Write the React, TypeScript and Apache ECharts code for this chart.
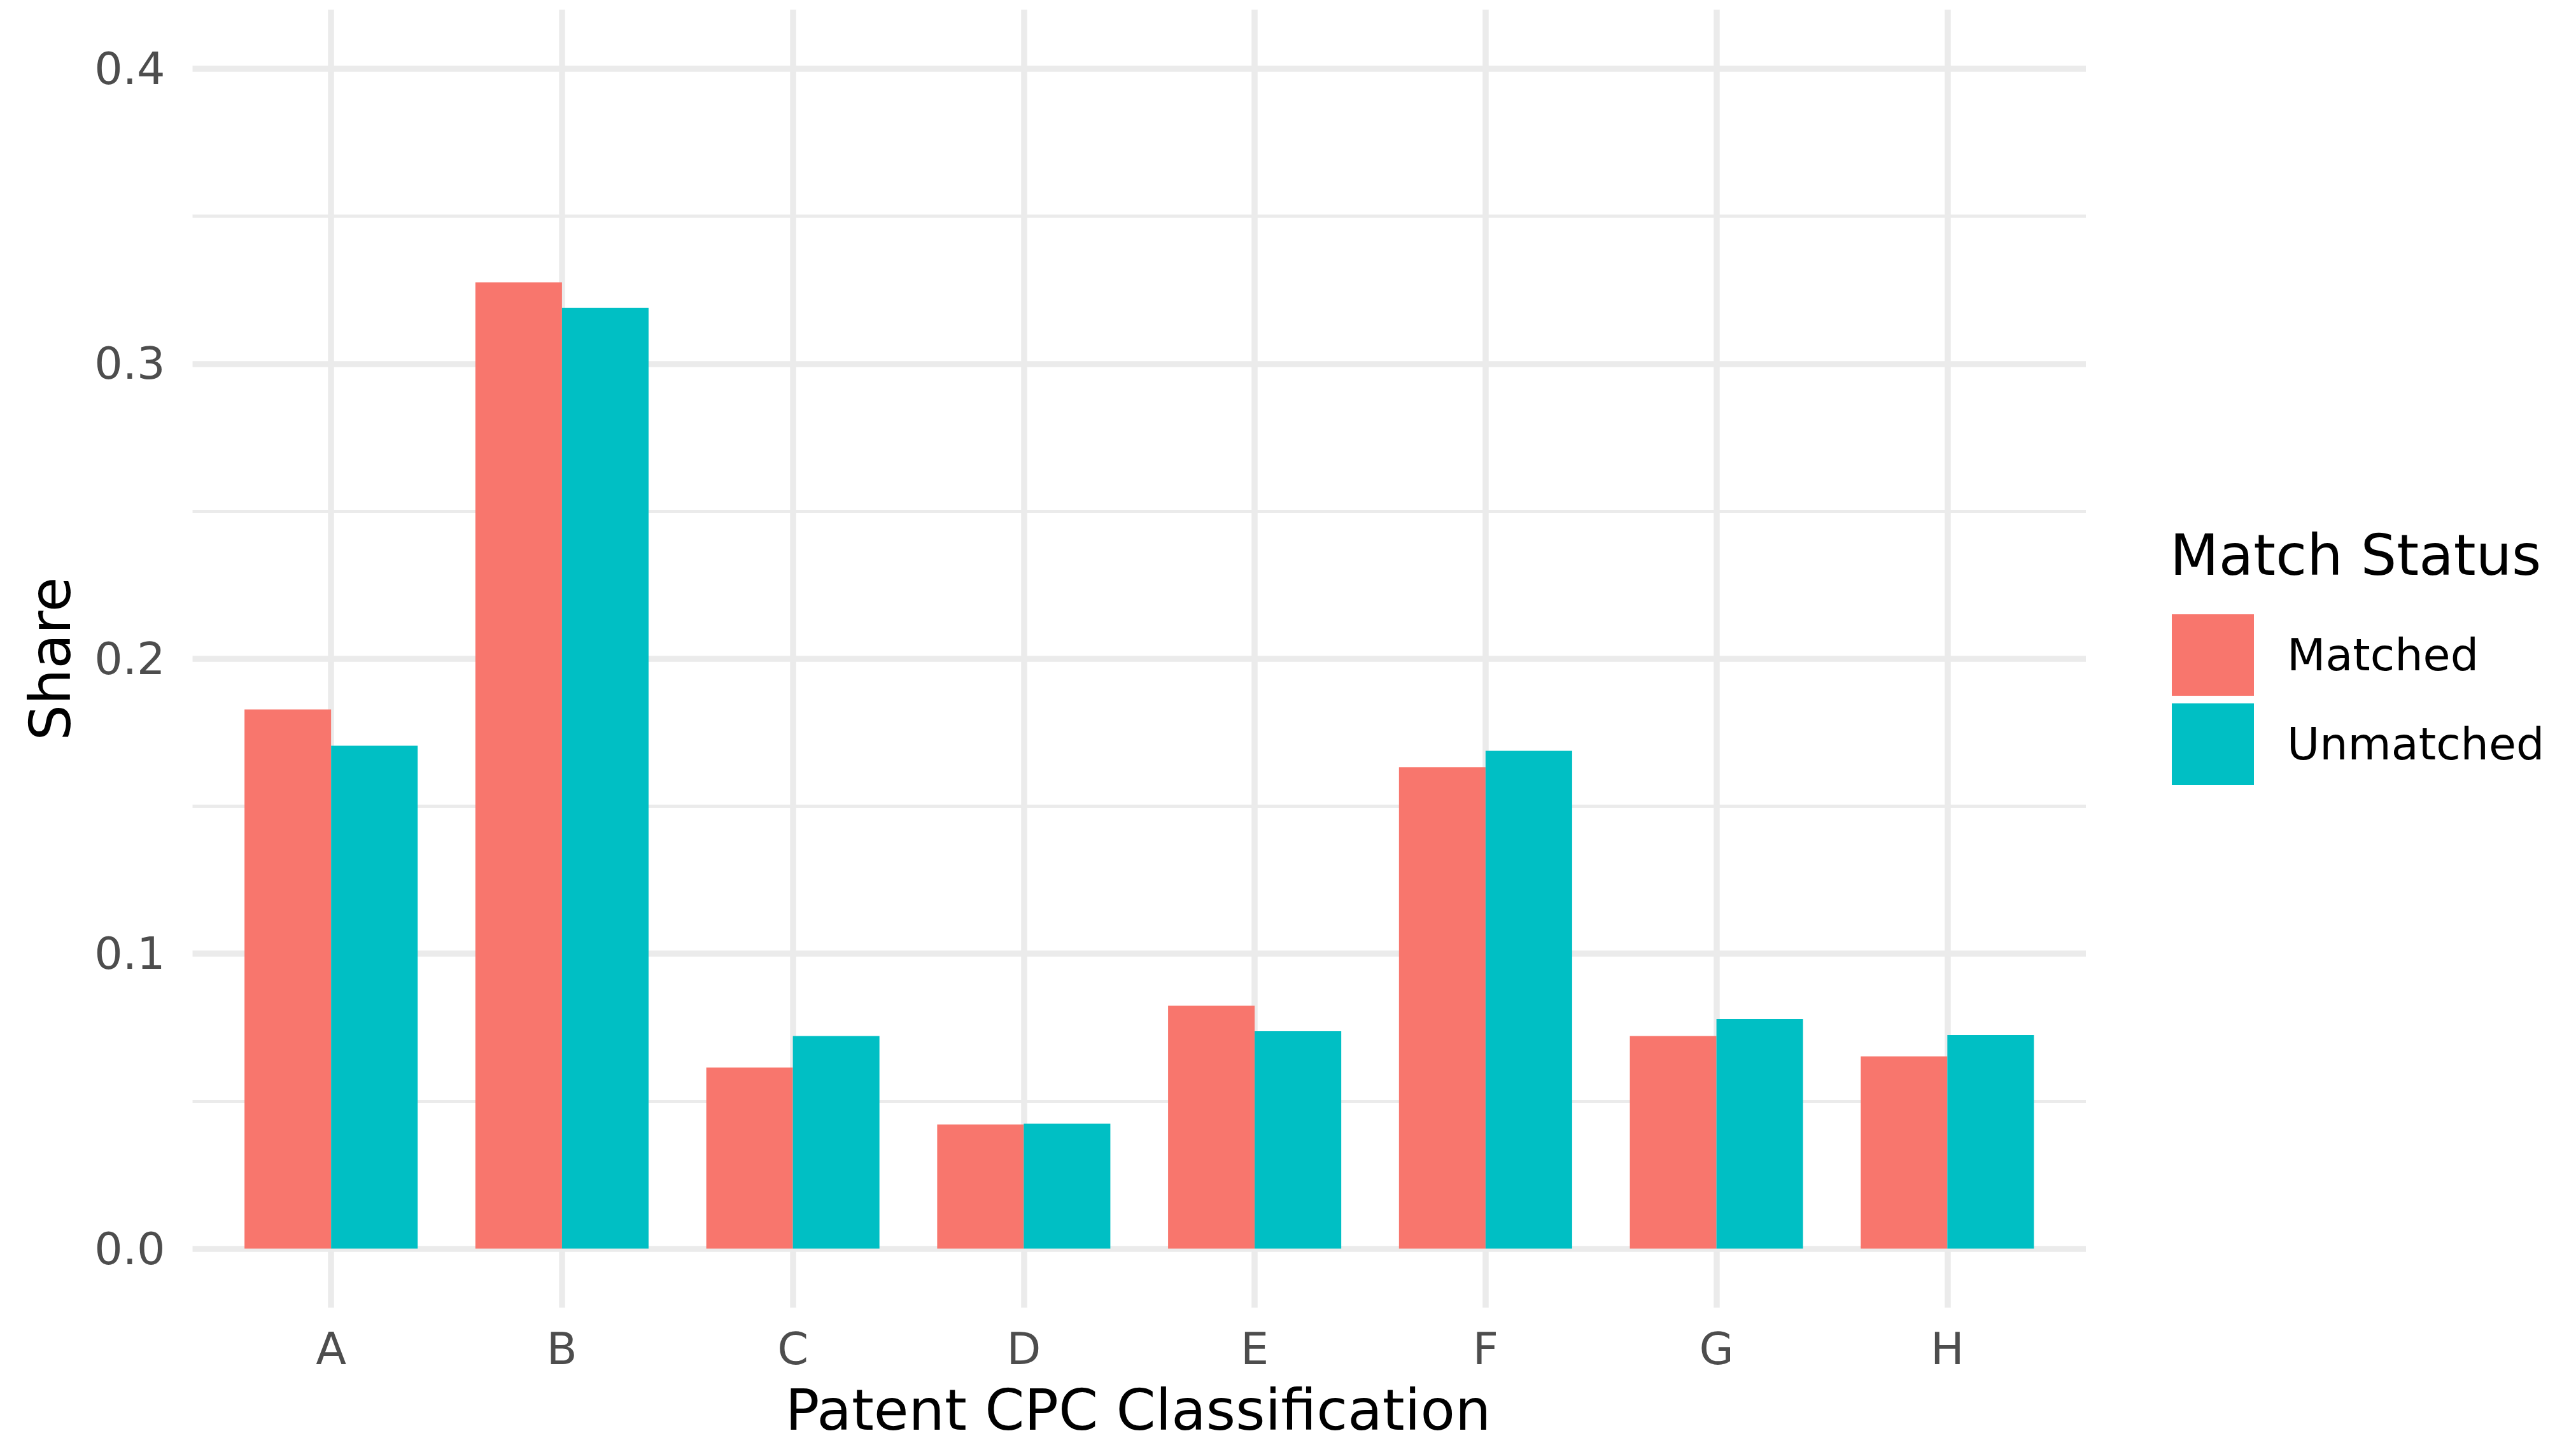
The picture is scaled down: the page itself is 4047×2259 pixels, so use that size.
import React, { useEffect, useRef } from "react";
import * as echarts from "echarts";

const categories = ["A", "B", "C", "D", "E", "F", "G", "H"];
const matched = [0.1828, 0.3276, 0.0614, 0.0421, 0.0824, 0.1632, 0.0721, 0.0652];
const unmatched = [0.1705, 0.3189, 0.0721, 0.0424, 0.0737, 0.1688, 0.0778, 0.0724];
const seriesNames = ["Matched", "Unmatched"];
const seriesColors = ["#F8766D", "#00BFC4"];
const yMajorTicks = [0, 0.1, 0.2, 0.3, 0.4];
const yMinorTicks = [0.05, 0.15, 0.25, 0.35];
const xPositions = [0, 1, 2, 3, 4, 5, 6, 7];

const FONT = '"DejaVu Sans", "Liberation Sans", sans-serif';
const GRID_COLOR = "#EBEBEB";

export default function App() {
  const ref = useRef<HTMLDivElement>(null);

  useEffect(() => {
    if (!ref.current) return;
    const chart = echarts.init(ref.current, null, { renderer: "svg" });
    const option: any = {
      animation: false,
      backgroundColor: "#FFFFFF",
      textStyle: { fontFamily: FONT },
      grid: { left: 302.5, right: 770, top: 15.3, bottom: 204.7, containLabel: false },
      xAxis: {
        type: "value",
        min: -0.6,
        max: 7.6,
        axisLine: { show: false },
        axisTick: { show: false, customValues: xPositions },
        axisLabel: {
          customValues: xPositions,
          formatter: (v: number) => categories[Math.round(v)] ?? "",
          fontSize: 70,
          fontFamily: FONT,
          color: "#4D4D4D",
          margin: 65,
          verticalAlign: "middle",
        },
        splitLine: { show: true, lineStyle: { color: GRID_COLOR, width: 9.5 } },
      },
      yAxis: [
        {
          type: "value",
          min: -0.02,
          max: 0.42,
          axisLine: { show: false },
          axisTick: { show: false, customValues: yMajorTicks },
          axisLabel: {
            customValues: yMajorTicks,
            formatter: (v: number) => v.toFixed(1),
            fontSize: 70,
            fontFamily: FONT,
            color: "#4D4D4D",
            margin: 43,
          },
          splitLine: { show: true, lineStyle: { color: GRID_COLOR, width: 9.5 } },
        },
        {
          type: "value",
          min: -0.02,
          max: 0.42,
          position: "left",
          axisLine: { show: false },
          axisTick: { show: false, customValues: yMinorTicks },
          axisLabel: { show: false, customValues: yMinorTicks },
          splitLine: { show: true, lineStyle: { color: GRID_COLOR, width: 5 } },
        },
      ],
      legend: {
        data: seriesNames,
        orient: "vertical",
        left: 3412,
        top: 965,
        padding: 0,
        itemWidth: 129,
        itemHeight: 128,
        itemGap: 12,
        icon: "rect",
        textStyle: {
          fontSize: 70,
          fontFamily: FONT,
          color: "#000000",
          padding: [0, 0, 0, 47],
        },
      },
      graphic: [
        {
          type: "text",
          x: 79,
          y: 1035,
          rotation: Math.PI / 2,
          style: {
            text: "Share",
            fontSize: 89,
            lineHeight: 80,
            fontFamily: FONT,
            fill: "#000000",
            align: "center",
            verticalAlign: "middle",
            textAlign: "center",
            textVerticalAlign: "middle",
          },
        },
        {
          type: "text",
          x: 1788,
          y: 2215,
          style: {
            text: "Patent CPC Classification",
            fontSize: 89,
            lineHeight: 80,
            fontFamily: FONT,
            fill: "#000000",
            align: "center",
            verticalAlign: "middle",
            textAlign: "center",
            textVerticalAlign: "middle",
          },
        },
        {
          type: "text",
          x: 3409,
          y: 872,
          style: {
            text: "Match Status",
            fontSize: 89,
            lineHeight: 80,
            fontFamily: FONT,
            fill: "#000000",
            align: "left",
            verticalAlign: "middle",
            textAlign: "left",
            textVerticalAlign: "middle",
          },
        },
      ],
      series: [
        {
          name: seriesNames[0],
          type: "bar",
          xAxisIndex: 0,
          yAxisIndex: 0,
          barWidth: "37.5%",
          barGap: "0%",
          itemStyle: { color: seriesColors[0] },
          data: matched.map((v, i) => [xPositions[i], v]),
        },
        {
          name: seriesNames[1],
          type: "bar",
          xAxisIndex: 0,
          yAxisIndex: 0,
          barWidth: "37.5%",
          barGap: "0%",
          itemStyle: { color: seriesColors[1] },
          data: unmatched.map((v, i) => [xPositions[i], v]),
        },
      ],
    };
    chart.setOption(option);
    return () => {
      chart.dispose();
    };
  }, []);

  return (
    <div
      ref={ref}
      style={{ position: "fixed", left: 0, top: 0, width: "4047px", height: "2259px", background: "#FFFFFF" }}
    />
  );
}
